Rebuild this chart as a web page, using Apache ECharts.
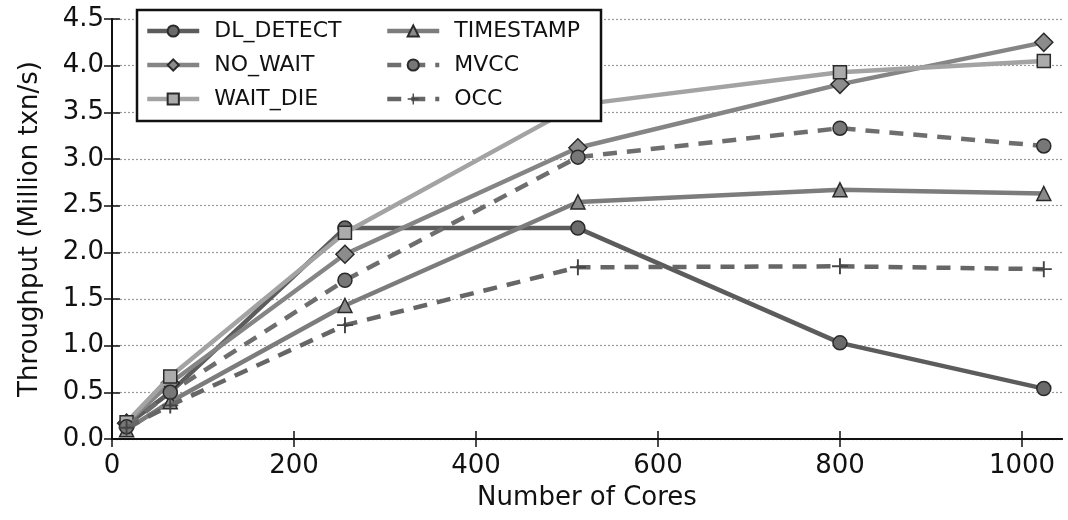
<!DOCTYPE html>
<html>
<head>
<meta charset="utf-8">
<script src="https://cdn.jsdelivr.net/npm/echarts@6/dist/echarts.min.js"></script>
<style>html,body{margin:0;padding:0;background:#fff;}#c{width:1068px;height:520px;}</style>
</head>
<body>
<div id="c"></div>
<script>
const cores = [16, 64, 256, 512, 800, 1024];
const dlDetect = [0.15, 0.50, 2.26, 2.26, 1.03, 0.54];
const noWait = [0.17, 0.60, 1.98, 3.12, 3.80, 4.25];
const waitDie = [0.18, 0.67, 2.21, 3.58, 3.93, 4.05];
const timestamp = [0.10, 0.40, 1.43, 2.54, 2.67, 2.63];
const mvcc = [0.13, 0.50, 1.70, 3.02, 3.33, 3.14];
const occ = [0.12, 0.36, 1.22, 1.84, 1.85, 1.82];
const seriesNames = ['DL_DETECT', 'NO_WAIT', 'WAIT_DIE', 'TIMESTAMP', 'MVCC', 'OCC'];
const xTicks = [0, 200, 400, 600, 800, 1000];

const font = 'DejaVu Sans';
const plus = 'path://M4.4,0h1.2v4.4h4.4v1.2h-4.4v4.4h-1.2v-4.4h-4.4v-1.2h4.4z';

function pts(ys) { return cores.map((c, i) => [c, ys[i]]); }

const styles = [
  { data: dlDetect, line: '#5c5c5c', fill: '#6a6a6a', symbol: 'circle', size: 14, dash: 'solid' },
  { data: noWait, line: '#858585', fill: '#8c8c8c', symbol: 'diamond', size: 18, dash: 'solid' },
  { data: waitDie, line: '#a3a3a3', fill: '#ababab', symbol: 'rect', size: 13, dash: 'solid' },
  { data: timestamp, line: '#7c7c7c', fill: '#8a8a8a', symbol: 'triangle', size: 14, dash: 'solid' },
  { data: mvcc, line: '#6e6e6e', fill: '#777777', symbol: 'circle', size: 14, dash: [14, 10] },
  { data: occ, line: '#666666', fill: '#444444', symbol: plus, size: 16, dash: [14, 10] }
];

const series = styles.map((s, i) => ({
  name: seriesNames[i],
  type: 'line',
  data: pts(s.data),
  symbol: s.symbol,
  symbolSize: s.size,
  showAllSymbol: true,
  lineStyle: { color: s.line, width: 4.5, type: s.dash },
  itemStyle: {
    color: s.fill,
    borderColor: s.symbol === plus ? s.fill : '#2a2a2a',
    borderWidth: s.symbol === plus ? 0 : 1.5
  },
  emphasis: { disabled: true },
  animation: false,
  z: 2 + i * 0.01
}));

const chart = echarts.init(document.getElementById('c'));
const legendText = { fontFamily: font, fontSize: 22, color: '#111', padding: [0, 0, 0, 10] };
const legendCommon = {
  orient: 'vertical', top: 15, itemWidth: 52, itemHeight: 14, itemGap: 12, z: 60,
  textStyle: legendText, selectedMode: false,
  lineStyle: { width: 4.5 }
};
chart.setOption({
  backgroundColor: '#fff',
  animation: false,
  grid: { left: 112, right: 6, top: 19, bottom: 81 },
  graphic: [{
    type: 'rect', z: 50, zlevel: 0,
    shape: { x: 137, y: 10, width: 464, height: 111 },
    style: { fill: '#fff', stroke: '#111', lineWidth: 2.5 }
  }],
  legend: [
    Object.assign({ data: seriesNames.slice(0, 3), left: 140 }, legendCommon),
    Object.assign({ data: seriesNames.slice(3), left: 380 }, legendCommon)
  ],
  xAxis: [
    {
      type: 'value', min: 0, max: 1044, interval: 200, position: 'bottom',
      name: 'Number of Cores', nameLocation: 'middle', nameGap: 46,
      nameTextStyle: { fontFamily: font, fontSize: 26, color: '#111' },
      axisLine: { show: true, lineStyle: { color: '#111', width: 2 } },
      axisTick: { show: true, inside: true, length: 8, customValues: xTicks, lineStyle: { color: '#111', width: 1.5 } },
      axisLabel: {
        fontFamily: font, fontSize: 26, color: '#111', margin: 14, customValues: xTicks,
        formatter: v => String(v)
      },
      splitLine: { show: false }
    },
    {
      type: 'value', min: 0, max: 1044, interval: 200, position: 'top',
      axisLine: { show: true, lineStyle: { color: '#111', width: 2 } },
      axisTick: { show: true, inside: true, length: 8, customValues: xTicks, lineStyle: { color: '#111', width: 1.5 } },
      axisLabel: { show: false }, splitLine: { show: false }
    }
  ],
  yAxis: [
    {
      type: 'value', min: 0, max: 4.5, interval: 0.5, position: 'left',
      name: 'Throughput (Million txn/s)', nameLocation: 'middle', nameGap: 69,
      nameTextStyle: { fontFamily: font, fontSize: 26, color: '#111' },
      axisLine: { show: true, lineStyle: { color: '#111', width: 2 } },
      axisTick: { show: true, inside: true, length: 8, lineStyle: { color: '#111', width: 1.5 } },
      axisLabel: {
        fontFamily: font, fontSize: 26, color: '#111', margin: 8,
        formatter: v => v.toFixed(1)
      },
      splitLine: { show: true, lineStyle: { color: '#9a9a9a', width: 1.2, type: [2, 2] } }
    },
    {
      type: 'value', min: 0, max: 4.5, interval: 0.5, position: 'right',
      axisLine: { show: true, lineStyle: { color: '#111', width: 2 } },
      axisTick: { show: true, inside: true, length: 8, lineStyle: { color: '#111', width: 1.5 } },
      axisLabel: { show: false }, splitLine: { show: false }
    }
  ],
  series: series
});
</script>
</body>
</html>
